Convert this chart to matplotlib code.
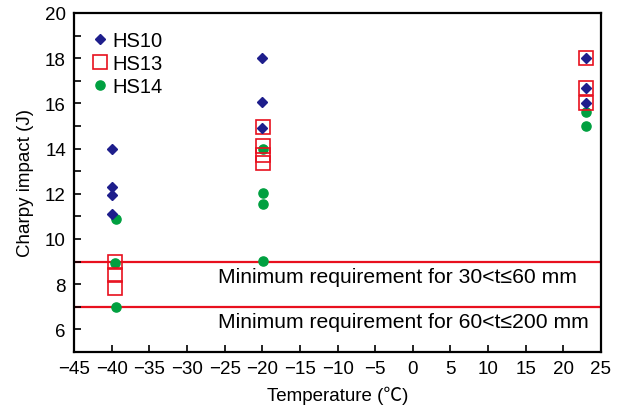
import matplotlib
matplotlib.use("Agg")
import matplotlib.pyplot as plt
from matplotlib.ticker import MultipleLocator

plt.rcParams['font.family'] = ['Liberation Sans', 'Noto Sans CJK SC', 'DejaVu Sans']
plt.rcParams['axes.unicode_minus'] = True

# measured points (temperature, Charpy energy J)
hs10_t = [-40, -40, -40, -40, -20, -20, -20, 23, 23, 23]
hs10_e = [14.0, 12.3, 11.95, 11.1, 18.0, 16.05, 14.92, 18.0, 16.7, 16.03]

hs13_t = [-39.6, -39.6, -39.6, -19.9, -19.9, -19.9, -19.9, 23, 23, 23]
hs13_e = [9.0, 8.42, 7.85, 14.95, 14.1, 13.72, 13.37, 18.0, 16.7, 16.03]

hs14_t = [-39.5, -39.6, -39.5, -19.9, -19.9, -19.9, -19.9, 23, 23]
hs14_e = [10.88, 8.92, 7.0, 13.97, 12.03, 11.56, 9.03, 15.6, 14.98]

req_levels = [9, 7]
req_labels = ["Minimum requirement for 30<t\u2264" + "60 mm",
              "Minimum requirement for 60<t\u2264" + "200 mm"]

red = '#e8101e'
fig = plt.figure(figsize=(6.24, 4.10), dpi=100)
ax = fig.add_axes([0.119, 0.139, 0.844, 0.827])

for y, lab in zip(req_levels, req_labels):
    ax.axhline(y, color=red, lw=1.6, zorder=1)
    ax.text(-25.9, y - 0.65, lab, fontsize=15.2, va='center', ha='left')

ax.plot(hs10_t, hs10_e, ls='none', marker='D', ms=4.6, color='#1e1e8c',
        mec='#1e1e8c', label='HS10', zorder=4)
ax.plot(hs13_t, hs13_e, ls='none', marker='s', ms=9.5, mfc='none',
        mec=red, mew=1.2, label='HS13', zorder=3)
ax.plot(hs14_t, hs14_e, ls='none', marker='o', ms=6.6, color='#00a040',
        label='HS14', zorder=2)

ax.set_xlim(-45, 25)
ax.set_ylim(5, 20)
ax.xaxis.set_major_locator(MultipleLocator(5))
ax.yaxis.set_minor_locator(MultipleLocator(1))
ax.set_yticks([6, 8, 10, 12, 14, 16, 18, 20])
ax.tick_params(which='both', direction='in', top=False, right=False,
               labelsize=13.5, width=1.2, length=5)
ax.tick_params(axis='x', pad=6)
ax.tick_params(axis='y', pad=6)
for s in ax.spines.values():
    s.set_linewidth(1.6)

ax.set_xlabel('Temperature (\u2103)', fontsize=13.5, labelpad=6)
ax.set_ylabel('Charpy impact (J)', fontsize=13.5, labelpad=8)

ax.legend(loc='upper left', bbox_to_anchor=(0.0, 0.995), frameon=False,
          fontsize=14.5, numpoints=1, handlelength=1.0, handletextpad=0.1,
          labelspacing=0.2, borderaxespad=0.4)

fig.savefig('out.png', dpi=100)
